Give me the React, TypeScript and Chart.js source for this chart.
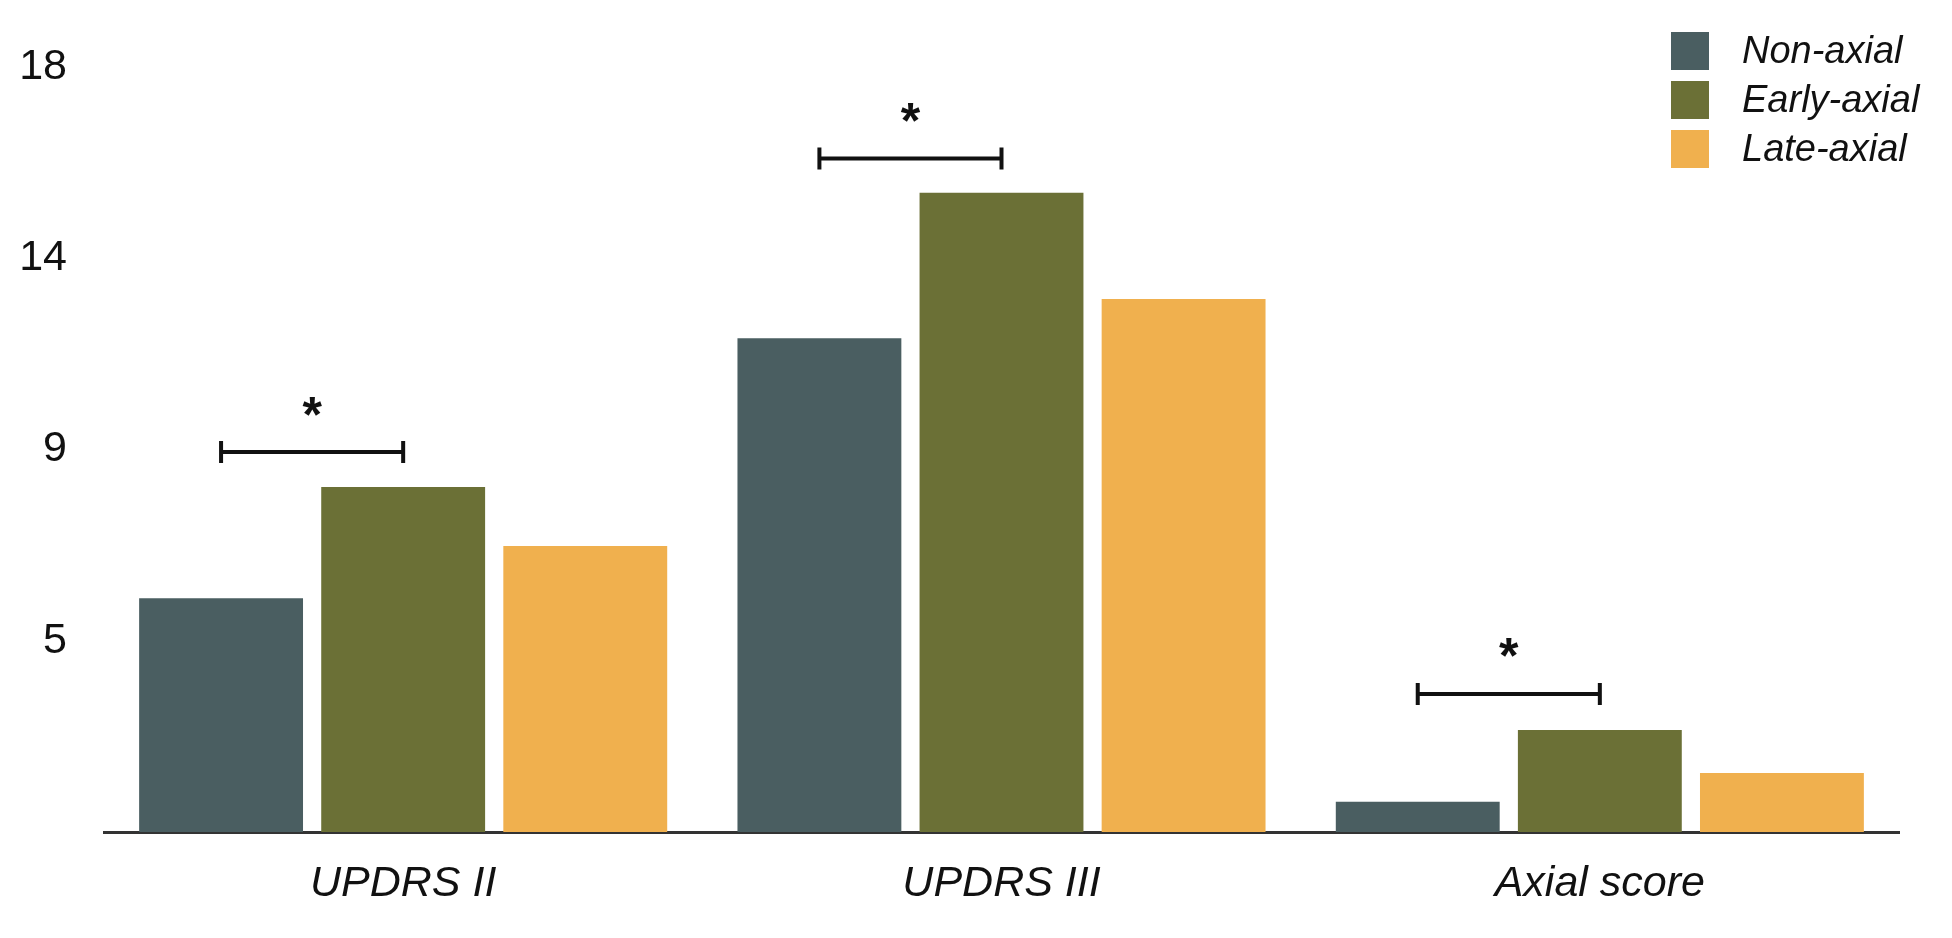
import React, { useEffect, useRef } from "react";
import { Chart, registerables } from "chart.js";

Chart.register(...registerables);

const categories = ["UPDRS II", "UPDRS III", "Axial score"];
const seriesNames = ["Non-axial", "Early-axial", "Late-axial"];
const nonAxial = [5.5, 11.62, 0.71];
const earlyAxial = [8.12, 15.04, 2.4];
const lateAxial = [6.73, 12.54, 1.39];
const seriesColors = ["#4A5E61", "#6B7036", "#F0B04E"];
const yTickValues = [4.5, 9, 13.5, 18];
const yTickLabels = ["5", "9", "14", "18"];
// significance brackets: category index, from series, to series, level (value units)
const bracketCats = [0, 1, 2];
const bracketLevels = [8.94, 15.85, 3.25];

const FONT = "'Liberation Sans', Arial, Helvetica, sans-serif";

const bracketPlugin = {
  id: "brackets",
  afterDatasetsDraw(chart: any) {
    const ctx = chart.ctx;
    const y = chart.scales.y;
    const m0 = chart.getDatasetMeta(0);
    const m1 = chart.getDatasetMeta(1);
    ctx.save();
    bracketCats.forEach((c, i) => {
      const x1 = m0.data[c].x;
      const x2 = m1.data[c].x;
      const py = y.getPixelForValue(bracketLevels[i]);
      ctx.strokeStyle = "#111";
      ctx.lineWidth = 4;
      ctx.lineCap = "butt";
      ctx.beginPath();
      ctx.moveTo(x1, py);
      ctx.lineTo(x2, py);
      ctx.moveTo(x1, py - 11);
      ctx.lineTo(x1, py + 11);
      ctx.moveTo(x2, py - 11);
      ctx.lineTo(x2, py + 11);
      ctx.stroke();
      ctx.font = `bold 50px ${FONT}`;
      ctx.fillStyle = "#111";
      ctx.textAlign = "center";
      ctx.textBaseline = "alphabetic";
      const mt = ctx.measureText("*");
      const asc = mt.actualBoundingBoxAscent;
      const desc = mt.actualBoundingBoxDescent;
      const target = py - 46;
      ctx.fillText("*", (x1 + x2) / 2, target + (asc - desc) / 2);
    });
    ctx.restore();
  },
};

const legendPlugin = {
  id: "customLegend",
  afterDraw(chart: any) {
    const ctx = chart.ctx;
    ctx.save();
    const bx = 1671;
    const by = 32;
    const size = 38;
    const pitch = 49;
    chart.data.datasets.forEach((ds: any, i: number) => {
      ctx.fillStyle = ds.backgroundColor;
      ctx.fillRect(bx, by + i * pitch, size, size);
      ctx.fillStyle = "#111";
      ctx.font = `italic 38px ${FONT}`;
      ctx.textAlign = "left";
      ctx.textBaseline = "middle";
      ctx.fillText(ds.label, 1742, by + i * pitch + size / 2 + 1);
    });
    ctx.restore();
  },
};

export default function App() {
  const ref = useRef<HTMLCanvasElement>(null);
  useEffect(() => {
    document.body.style.margin = "0";
    const chart = new Chart(ref.current!, {
      type: "bar",
      data: {
        labels: categories,
        datasets: [nonAxial, earlyAxial, lateAxial].map((d, i) => ({
          label: seriesNames[i],
          data: d,
          backgroundColor: seriesColors[i],
          borderWidth: 0,
          categoryPercentage: 0.913,
          barPercentage: 0.9,
        })),
      },
      options: {
        responsive: false,
        animation: false,
        devicePixelRatio: 1,
        layout: { padding: { left: 0, right: 53, top: 67, bottom: 0 } },
        plugins: { legend: { display: false }, tooltip: { enabled: false } },
        scales: {
          x: {
            grid: { display: false, drawTicks: false },
            border: { display: true, color: "#333", width: 3 },
            ticks: {
              padding: 26,
              color: "#111",
              font: { family: FONT, size: 43, style: "italic" },
            },
            afterFit: (s: any) => {
              s.height = 106;
            },
          },
          y: {
            min: 0,
            max: 18,
            grid: { display: false, drawTicks: false },
            border: { display: false },
            afterBuildTicks: (s: any) => {
              s.ticks = yTickValues.map((v) => ({ value: v }));
            },
            ticks: {
              padding: 37,
              color: "#111",
              font: { family: FONT, size: 43 },
              callback: (v: any) => {
                const idx = yTickValues.indexOf(Number(v));
                return idx >= 0 ? yTickLabels[idx] : "";
              },
            },
            afterFit: (s: any) => {
              s.width = 104;
            },
          },
        },
      },
      plugins: [bracketPlugin, legendPlugin],
    });
    return () => chart.destroy();
  }, []);
  return (
    <div style={{ width: 1952, height: 938, background: "#fff" }}>
      <canvas ref={ref} width={1952} height={938} style={{ display: "block" }} />
    </div>
  );
}
